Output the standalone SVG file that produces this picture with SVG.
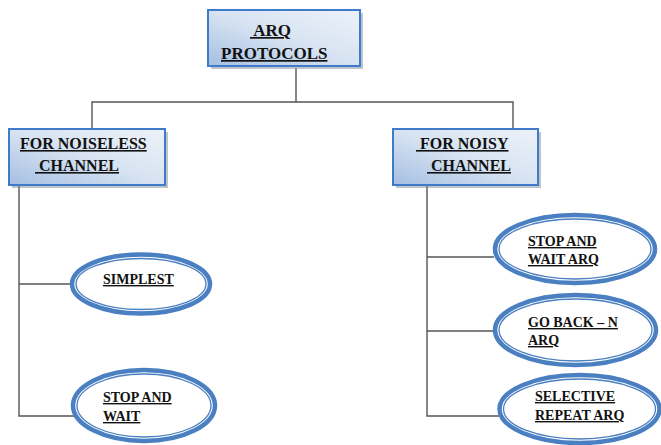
<svg xmlns="http://www.w3.org/2000/svg" width="661" height="445" viewBox="0 0 661 445" font-family="'Liberation Serif', 'Times New Roman', Times, serif">
<style>
.box{stroke:#3f7bc8;stroke-width:2;fill:url(#g)}
.shadow{fill:#8893a3;opacity:.55}
.outer{fill:#fff;stroke:#4a7fc1;stroke-width:4.5}
.inner{fill:none;stroke:#4a7fc1;stroke-width:1.3}
.conn{stroke:#555;stroke-width:1.4;fill:none}
text{font-family:'Liberation Serif','Times New Roman',Times,serif;font-weight:bold;text-decoration:underline;fill:#111}
.t17{font-size:17px}.t16{font-size:16px}.t14{font-size:14px}
</style>
<defs>
<linearGradient id="g" x1="0" y1="1" x2="1" y2="0">
<stop offset="0" stop-color="#a4bfe2"/>
<stop offset="0.5" stop-color="#d7e3f2"/>
<stop offset="1" stop-color="#edf2f9"/>
</linearGradient>
</defs>
<rect width="661" height="445" fill="#fff"/>
<g id="connectors">
<polyline class="conn" points="296,68 296,102"/>
<polyline class="conn" points="92,129 92,102 513,102 513,129"/>
<polyline class="conn" points="19,186 19,416 74,416"/>
<line class="conn" x1="19" y1="284" x2="70" y2="284"/>
<polyline class="conn" points="427,186 427,416 500,416"/>
<line class="conn" x1="427" y1="257" x2="494" y2="257"/>
<line class="conn" x1="427" y1="331" x2="494" y2="331"/>
</g>
<g id="arq-protocols">
<rect class="shadow" x="211" y="13" width="152" height="56"/>
<rect class="box" x="208" y="10" width="152" height="56"/>
<text class="t17" x="250" y="36" xml:space="preserve"> ARQ</text>
<text class="t17" x="221" y="59">PROTOCOLS</text>
</g>
<g id="noiseless">
<rect class="shadow" x="12" y="132" width="156" height="56"/>
<rect class="box" x="9" y="129" width="156" height="56"/>
<text class="t16" x="20" y="149">FOR NOISELESS</text>
<text class="t16" x="35" y="171" xml:space="preserve"> CHANNEL</text>
</g>
<g id="noisy">
<rect class="shadow" x="396" y="132" width="145" height="56"/>
<rect class="box" x="393" y="129" width="145" height="56"/>
<text class="t16" x="416" y="149" xml:space="preserve"> FOR NOISY</text>
<text class="t16" x="427" y="171" xml:space="preserve"> CHANNEL</text>
</g>
<g id="simplest">
<ellipse class="outer" cx="141" cy="284" rx="69" ry="29.5"/>
<ellipse class="inner" cx="141" cy="284" rx="65" ry="25.5"/>
<text class="t14" x="103" y="284">SIMPLEST</text>
</g>
<g id="stop-and-wait">
<ellipse class="outer" cx="144" cy="405.5" rx="71" ry="35.5"/>
<ellipse class="inner" cx="144" cy="405.5" rx="67" ry="31.5"/>
<text class="t14" x="103" y="402">STOP AND</text>
<text class="t14" x="103" y="421">WAIT</text>
</g>
<g id="stop-and-wait-arq">
<ellipse class="outer" cx="575" cy="249" rx="80" ry="34"/>
<ellipse class="inner" cx="575" cy="249" rx="76" ry="30"/>
<text class="t14" x="528" y="246">STOP AND</text>
<text class="t14" x="528" y="264">WAIT ARQ</text>
</g>
<g id="go-back-n">
<ellipse class="outer" cx="575.5" cy="330" rx="80.5" ry="35"/>
<ellipse class="inner" cx="575.5" cy="330" rx="76.5" ry="31"/>
<text class="t14" x="528" y="327">GO BACK – N</text>
<text class="t14" x="528" y="345">ARQ</text>
</g>
<g id="selective-repeat">
<ellipse class="outer" cx="579.5" cy="409" rx="80" ry="34"/>
<ellipse class="inner" cx="579.5" cy="409" rx="76" ry="30"/>
<text class="t14" x="535" y="401">SELECTIVE</text>
<text class="t14" x="535" y="420">REPEAT ARQ</text>
</g>
</svg>
